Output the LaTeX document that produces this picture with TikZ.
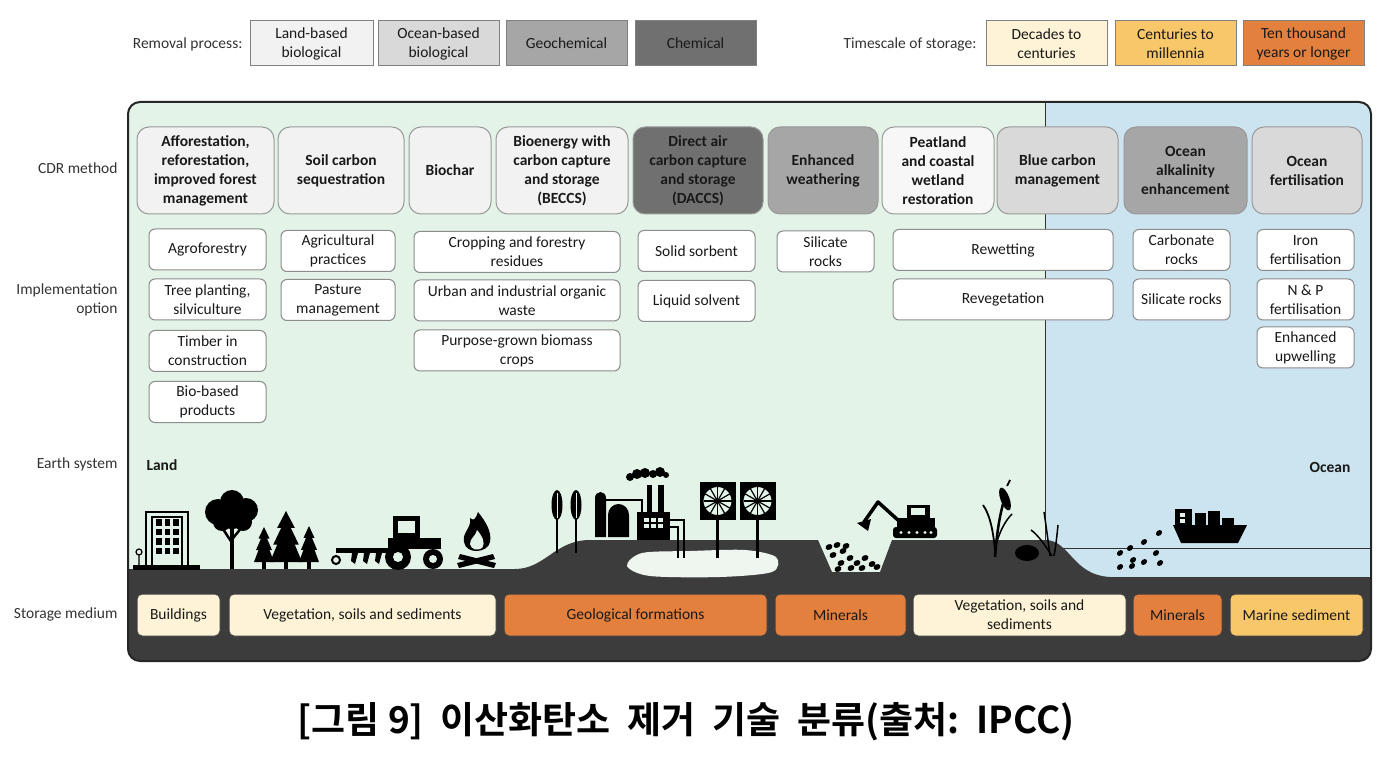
\documentclass[tikz,border=0pt]{standalone}
\usepackage{fontspec}
\setmainfont{Carlito}
\newfontfamily\krfont{Noto Sans CJK KR}[BoldFont={* Bold}]
\usepackage{tikz}
\definecolor{landbg}{HTML}{E3F3E8}
\definecolor{oceanbg}{HTML}{CCE4EF}
\definecolor{ground}{HTML}{3C3C3C}
\definecolor{cavity}{HTML}{EEF6EF}
\definecolor{procA}{HTML}{F2F2F2}
\definecolor{procB}{HTML}{D9D9D9}
\definecolor{procC}{HTML}{A6A6A6}
\definecolor{procD}{HTML}{707070}
\definecolor{timeA}{HTML}{FEF3D6}
\definecolor{timeB}{HTML}{F8C76A}
\definecolor{timeC}{HTML}{E3803D}
\tikzset{
  every node/.style={font=\fontsize{15.5}{19}\selectfont, text=black!90},
  leg/.style={draw=black!50, line width=1, minimum height=45, inner sep=0, align=center},
  cdr/.style={draw=black!40, line width=1, rounded corners=12, minimum height=87, inner sep=0, align=center, font=\fontsize{15.5}{19}\selectfont\bfseries},
  opt/.style={draw=black!45, fill=white, line width=1, rounded corners=6, minimum height=41, inner sep=0, align=center},
  store/.style={draw=black!75, line width=1, rounded corners=5, minimum height=42, inner sep=0, align=center},
  rowlab/.style={anchor=east, align=right, text=black!80},
  rock/.style={fill=black}
}
\begin{document}
\begin{tikzpicture}[x=1pt, y=-1pt]
\useasboundingbox (0,0) rectangle (1377,767);
\node[anchor=east, text=black!80] (remlab) at (246,44) {Removal process:};
\node[leg, fill=procA, minimum width=123] (landbio) at (311.5,43.5) {Land-based\\biological};
\node[leg, fill=procB, minimum width=121] (oceanbio) at (438.5,43.5) {Ocean-based\\biological};
\node[leg, fill=procC, minimum width=121] (geochem) at (566.5,43.5) {Geochemical};
\node[leg, fill=procD, minimum width=121] (chem) at (695.5,43.5) {Chemical};
\node[anchor=east, text=black!80] (timelab) at (980,44) {Timescale of storage:};
\node[leg, fill=timeA, minimum width=121] (decades) at (1046.5,43.5) {Decades to\\centuries};
\node[leg, fill=timeB, minimum width=121] (centuries) at (1175.5,43.5) {Centuries to\\millennia};
\node[leg, fill=timeC, minimum width=121] (tenk) at (1303.5,43.5) {Ten thousand\\years or longer};
\begin{scope}
\clip[rounded corners=12] (128,102) rectangle (1371,661);
\fill[landbg] (128,102) rectangle (1371,661);
\fill[oceanbg] (1045,102) rectangle (1371,661);
\draw[black!80, line width=1] (1045,548) -- (1371,548);
\fill[ground] (128,569) -- (515,569) .. controls (545,569) and (555,540) .. (590,540) -- (818,540) -- (832,572) -- (880,572) -- (892,540) -- (1045,540) .. controls (1070,540) and (1072,575) .. (1110,577) -- (1371,577) -- (1371,661) -- (128,661) -- cycle;
\fill[cavity] plot[smooth cycle] coordinates {(627,566) (642,553) (690,551) (745,550) (776,557) (772,572) (720,577) (650,576)};
\end{scope}
\draw[black!80, line width=1] (1045,102) -- (1045,540);
\draw[black!85, line width=2, rounded corners=12] (128,102) rectangle (1371,661);
\node[rowlab] (cdrlab) at (121,168) {CDR method};
\node[rowlab] (implab) at (121,300) {Implementation\\option};
\node[rowlab] (earthlab) at (121,464) {Earth system};
\node[rowlab] (storelab) at (121,614) {Storage medium};
\node[cdr, fill=procA, minimum width=137] (afforest) at (205.5,170.5) {Afforestation,\\reforestation,\\improved forest\\management};
\node[cdr, fill=procA, minimum width=126] (soilc) at (341,170.5) {Soil carbon\\sequestration};
\node[cdr, fill=procA, minimum width=82] (biochar) at (450,170.5) {Biochar};
\node[cdr, fill=procA, minimum width=132] (beccs) at (562,170.5) {Bioenergy with\\carbon capture\\and storage\\(BECCS)};
\node[cdr, fill=procD, minimum width=130] (daccs) at (698,170.5) {Direct air\\carbon capture\\and storage\\(DACCS)};
\node[cdr, fill=procC, minimum width=110] (weather) at (823,170.5) {Enhanced\\weathering};
\node[cdr, fill=procA!60!white, minimum width=112] (peat) at (938,170.5) {Peatland\\and coastal\\wetland\\restoration};
\node[cdr, fill=procB, minimum width=121] (bluec) at (1057.5,170.5) {Blue carbon\\management};
\node[cdr, fill=procC, minimum width=123] (alkal) at (1185.5,170.5) {Ocean\\alkalinity\\enhancement};
\node[cdr, fill=procB, minimum width=110] (oceanfert) at (1307,170.5) {Ocean\\fertilisation};
\node[opt, minimum width=117] (agrofor) at (207.5,249.5) {Agroforestry};
\node[opt, minimum width=117] (treeplant) at (207.5,299.5) {Tree planting,\\silviculture};
\node[opt, minimum width=117] (timber) at (207.5,351) {Timber in\\construction};
\node[opt, minimum width=117] (biobased) at (207.5,402) {Bio-based\\products};
\node[opt, minimum width=114] (agripract) at (338,251) {Agricultural\\practices};
\node[opt, minimum width=114] (pasture) at (338,300) {Pasture\\management};
\node[opt, minimum width=206] (residues) at (517,252) {Cropping and forestry\\residues};
\node[opt, minimum width=206] (waste) at (517,300.5) {Urban and industrial organic\\waste};
\node[opt, minimum width=206] (purpose) at (517,350.5) {Purpose-grown biomass\\crops};
\node[opt, minimum width=117] (sorbent) at (696.5,251) {Solid sorbent};
\node[opt, minimum width=117] (solvent) at (696.5,301) {Liquid solvent};
\node[opt, minimum width=97] (silland) at (825.5,251.5) {Silicate\\rocks};
\node[opt, minimum width=220] (rewet) at (1003,250) {Rewetting};
\node[opt, minimum width=220] (reveg) at (1003,299.5) {Revegetation};
\node[opt, minimum width=97] (carbrock) at (1181.5,250) {Carbonate\\rocks};
\node[opt, minimum width=97] (silocean) at (1181.5,299.5) {Silicate rocks};
\node[opt, minimum width=97] (ironfert) at (1305.5,250) {Iron\\fertilisation};
\node[opt, minimum width=97] (npfert) at (1305.5,299.5) {N \& P\\fertilisation};
\node[opt, minimum width=97] (upwell) at (1305.5,347.5) {Enhanced\\upwelling};
\node[anchor=west, font=\fontsize{15.5}{19}\selectfont\bfseries] (land) at (143,465) {Land};
\node[anchor=east, font=\fontsize{15.5}{19}\selectfont\bfseries] (ocean) at (1354,467) {Ocean};
\fill (133,565) rectangle (200,570);
\draw[line width=2] (146,566) -- (146,512) -- (188,512) -- (188,566);
\draw[line width=1.2] (152,566) -- (152,517) -- (182,517) -- (182,566);
\foreach \i in {0,1,2} \foreach \j in {0,1,2,3} \fill (156+\i*8.5,519+\j*9.5) rectangle ++(5.5,6.5);
\draw[line width=1.2] (139,566) -- (139,555) (139,552) circle (3);
\foreach \cx/\cy/\r in {218/512/13, 232/502/12, 246/510/12, 222/522/9, 243/522/9, 232/515/14} \fill (\cx,\cy) circle (\r);
\fill (229.5,525) rectangle (233.5,569);
\draw[line width=2.5] (231.5,542) -- (221,526) (231.5,540) -- (242,527);
\foreach \c/\t/\w in {264/527/10, 286/511/16, 309/526/10} {
  \fill (\c,\t) -- ({\c-0.55*\w},{\t+0.33*(562-\t)}) -- ({\c-0.3*\w},{\t+0.33*(562-\t)}) -- ({\c-0.8*\w},{\t+0.66*(562-\t)}) -- ({\c-0.55*\w},{\t+0.66*(562-\t)}) -- ({\c-\w},562) -- ({\c+\w},562) -- ({\c+0.55*\w},{\t+0.66*(562-\t)}) -- ({\c+0.8*\w},{\t+0.66*(562-\t)}) -- ({\c+0.3*\w},{\t+0.33*(562-\t)}) -- ({\c+0.55*\w},{\t+0.33*(562-\t)}) -- cycle;
  \fill ({\c-2},560) rectangle ({\c+2},569);
}
\fill (393,516) rectangle (420,540);
\fill[landbg] (398,521) rectangle (415,533);
\fill (388,538) rectangle (441,549);
\fill (398,557) circle (13);
\fill[landbg] (398,557) circle (5);
\fill (433,559) circle (10);
\fill[landbg] (433,559) circle (4);
\fill (336,548) rectangle (392,553);
\draw[line width=2] (336,560) circle (4);
\foreach \p in {352,364,376} \fill (\p,553) -- (\p+6,553) -- (\p+3,564) -- (\p-1,561) -- cycle;
\fill (478,512) .. controls (486,522) and (492,532) .. (490,542) .. controls (488,553) and (466,555) .. (464,542) .. controls (462,532) and (472,528) .. (470,518) .. controls (474,522) and (476,518) .. cycle;
\fill[landbg] (477,530) .. controls (482,536) and (486,542) .. (482,548) .. controls (478,551) and (471,550) .. (470,544) .. controls (470,538) and (476,536) .. cycle;
\fill (457,563) -- (493,554) -- (495,559) -- (459,568) -- cycle;
\fill (460,554) -- (496,563) -- (494,568) -- (458,559) -- cycle;
\foreach \w in {557,576} {
  \draw[line width=1.5] (\w,553) -- (\w,495);
  \fill (\w,505) ellipse (5.5 and 15);
  \draw[landbg, line width=0.8] (\w,493) -- (\w,518);
}
\fill (595,537) -- (595,498) arc[start angle=180, end angle=360, x radius=5.5, y radius=6] -- (606,537) -- cycle;
\fill (608,537) -- (608,515) arc[start angle=180, end angle=360, x radius=10.5, y radius=11] -- (629,537) -- cycle;
\draw[line width=1.2] (600,500) -- (642,500) -- (642,512);
\fill (637,512) rectangle (670,540);
\foreach \i in {0,1,2} \foreach \j in {0,1} \fill[landbg] (644+\i*7,518+\j*6) rectangle ++(5,4);
\fill (647,485) rectangle (652,512);
\fill (658,485) rectangle (664,512);
\foreach \cx/\cy/\r in {630/477/4, 637/474/5, 645/473/5, 653/474/4, 660/472/5, 666/475/3} \fill (\cx,\cy) circle (\r);
\draw[line width=1.5] (670,520) -- (684,520) -- (684,558);
\draw[line width=1.5] (670,527) -- (678,527) -- (678,558);
\foreach \dx in {717.5,757.5} {
  \fill ({\dx-18},482) rectangle ({\dx+18},520);
  \fill[landbg] (\dx,501) circle (15);
  \draw[line width=2] (\dx,501) circle (15);
  \foreach \a in {0,30,...,150} \draw[line width=1.2] ([shift={(\a:14)}]\dx,501) -- ([shift={(\a+180:14)}]\dx,501);
  \draw[line width=2.5] (\dx,520) -- (\dx,558);
}
\foreach \rx/\ry in {829/547, 837/545, 833/555, 843/551, 850/558, 841/563, 857/563, 865/558, 872/564, 862/568, 851/568, 877/567, 838/569, 846/546}
  \fill[rock, rotate around={25:(\rx,\ry)}] (\rx,\ry) ellipse (3.6 and 2.8);
\fill[rounded corners=3] (893,527) rectangle (937,538);
\foreach \d in {901,909,917,925,931} \fill[landbg] (\d,532.5) circle (1.6);
\fill (897,518) rectangle (935,527);
\fill (907,505) rectangle (930,518);
\fill[landbg] (911,508) rectangle (925,515);
\draw[line width=3.5, line join=round] (899,521) -- (878,502) -- (864,522);
\fill (857,523) -- (871,519) -- (868,531) -- cycle;
\draw[line width=2.5] (995,557) .. controls (997,530) and (1000,515) .. (1004,500);
\fill[rotate around={20:(1005,499)}] (1005,499) ellipse (4.5 and 12);
\draw[line width=1.8] (1007,486) -- (1010,480);
\draw[line width=1.8] (995,550) .. controls (993,530) and (990,515) .. (983,505);
\draw[line width=1.5] (996,545) .. controls (1000,530) and (1006,520) .. (1012,514);
\fill (1027,553) ellipse (12 and 8);
\draw[line width=1.5] (1050,556) .. controls (1048,540) and (1046,525) .. (1044,512);
\draw[line width=1.5] (1052,556) .. controls (1045,545) and (1038,535) .. (1031,530);
\draw[line width=1.5] (1054,556) .. controls (1056,545) and (1057,535) .. (1058,525);
\fill (1173,525) -- (1247,525) -- (1238,543) -- (1181,543) -- cycle;
\fill (1175,509) rectangle (1192,526);
\foreach \j in {0,1} \fill[landbg] (1180,513+\j*6) rectangle ++(5,3.5);
\fill (1195,513) rectangle (1206,526);
\fill (1208,511) rectangle (1220,526);
\fill (1222,518) rectangle (1234,526);
\foreach \rx/\ry in {1159/533, 1144/542, 1130/548, 1120/553, 1156/553, 1133/560, 1144/562, 1120/567, 1132/566, 1160/563}
  \fill[rock, rotate around={40:(\rx,\ry)}] (\rx,\ry) ellipse (3.4 and 2.6);
\node[store, fill=timeA, minimum width=83] (buildings) at (178.5,615) {Buildings};
\node[store, fill=timeA, minimum width=267] (vegland) at (362.5,615) {Vegetation, soils and sediments};
\node[store, fill=timeC, minimum width=263] (geoform) at (635.5,615) {Geological formations};
\node[store, fill=timeC, minimum width=131] (minland) at (840.5,615) {Minerals};
\node[store, fill=timeA, minimum width=213] (vegcoast) at (1019.5,615) {Vegetation, soils and\\sediments};
\node[store, fill=timeC, minimum width=89] (minocean) at (1177.5,615) {Minerals};
\node[store, fill=timeB, minimum width=133] (marine) at (1296.5,615) {Marine sediment};
\node[font=\krfont\bfseries\fontsize{37}{44}\selectfont, text=black] (caption) at (686,722) {[그림 9]\ \ 이산화탄소\ \ 제거\ \ 기술\ \ 분류(출처:\ \ IPCC)};
\end{tikzpicture}
\end{document}
